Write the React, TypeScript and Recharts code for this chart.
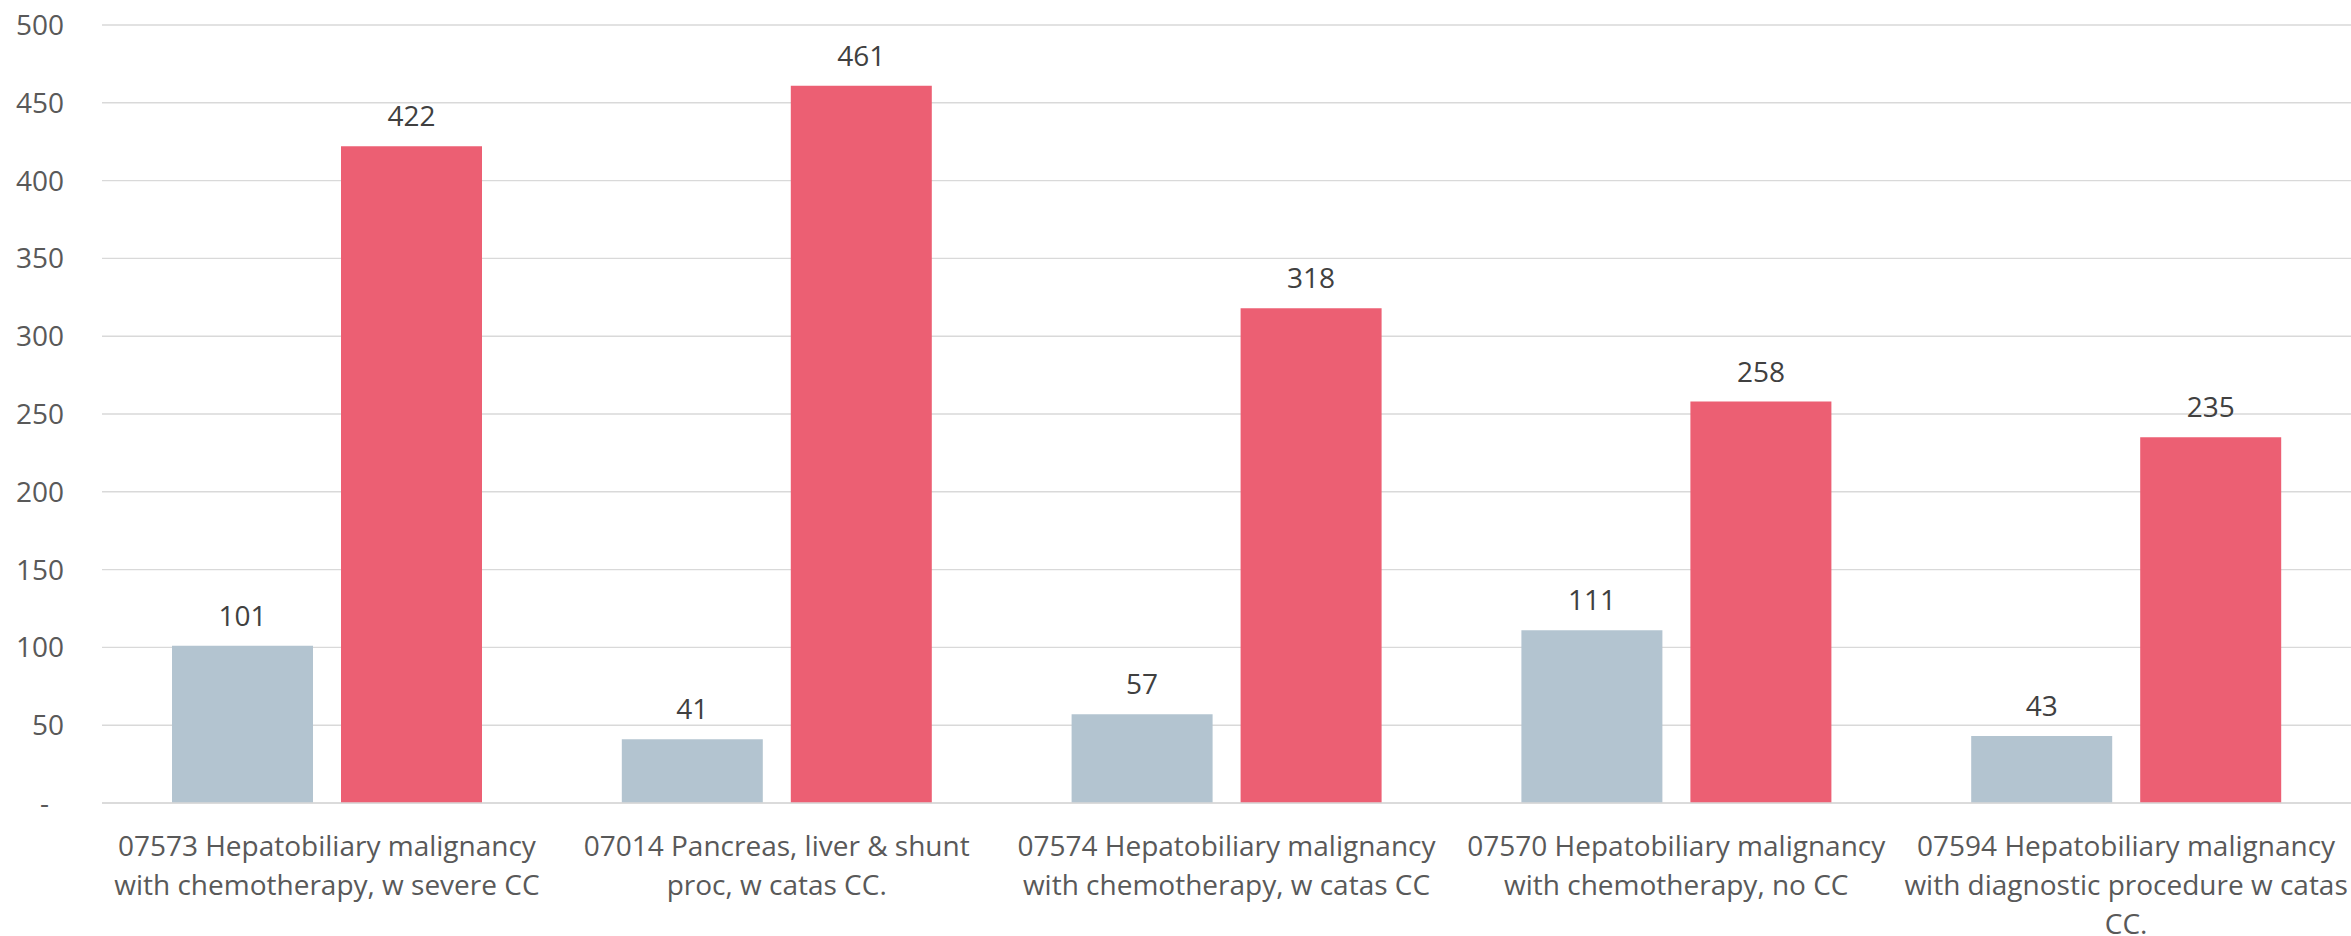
import { BarChart, Bar, XAxis, YAxis, CartesianGrid, LabelList } from "recharts"

// category names, line breaks are where the original wraps them
const categories = [
  "07573 Hepatobiliary malignancy\nwith chemotherapy, w severe CC",
  "07014 Pancreas, liver & shunt\nproc, w catas CC.",
  "07574 Hepatobiliary malignancy\nwith chemotherapy, w catas CC",
  "07570 Hepatobiliary malignancy\nwith chemotherapy, no CC",
  "07594 Hepatobiliary malignancy\nwith diagnostic procedure w catas\nCC.",
]
const greyValues = [101, 41, 57, 111, 43]
const redValues = [422, 461, 318, 258, 235]
const yTicks = [0, 50, 100, 150, 200, 250, 300, 350, 400, 450, 500]

const FONT = "'Open Sans', 'DejaVu Sans', sans-serif"

const data = categories.map((name, i) => ({ name, grey: greyValues[i], red: redValues[i] }))

//category labels, multi line and centred under each group
const XTick = ({ x, y, payload }: any) => {
  const lines = String(payload.value).split("\n")
  return (
    <text x={x} y={y} textAnchor="middle" fill="#595959" fontSize={28} fontFamily={FONT}>
      {lines.map((l, i) => (
        <tspan key={i} x={x} dy={i === 0 ? 53 : 39}>
          {l}
        </tspan>
      ))}
    </text>
  )
}

// zero shows as a dash like the accounting format does
const YTick = ({ x, y, payload }: any) => (
  <text
    x={payload.value === 0 ? x - 15 : x}
    y={y}
    dy="0.355em"
    textAnchor="end"
    fill="#595959"
    fontSize={28}
    fontFamily={FONT}
  >
    {payload.value === 0 ? "-" : payload.value}
  </text>
)

const valueLabel = (props: any) => {
  const { x, y, width, value } = props
  return (
    <text x={x + width / 2} y={y - 20} textAnchor="middle" fill="#404040" fontSize={28} fontFamily={FONT}>
      {value}
    </text>
  )
}

export default function App() {
  return (
    <div style={{ position: "absolute", left: 0, top: 0, width: 2351, height: 936, background: "#fff" }}>
      <BarChart
        width={2351}
        height={936}
        data={data}
        margin={{ top: 25, right: 0, left: 0, bottom: 0 }}
        barCategoryGap={70}
        barGap={28}
      >
        <CartesianGrid vertical={false} stroke="#d9d9d9" strokeWidth={1.4} />
        <XAxis
          dataKey="name"
          interval={0}
          height={133}
          tickSize={0}
          tickMargin={0}
          tickLine={false}
          axisLine={{ stroke: "#d9d9d9", strokeWidth: 1.4 }}
          tick={<XTick />}
        />
        <YAxis
          domain={[0, 500]}
          ticks={yTicks}
          width={102}
          tickSize={0}
          tickMargin={38}
          axisLine={false}
          tickLine={false}
          tick={<YTick />}
        />
        <Bar dataKey="grey" fill="#b3c4d0" isAnimationActive={false}>
          <LabelList dataKey="grey" content={valueLabel} />
        </Bar>
        <Bar dataKey="red" fill="#ec5f73" isAnimationActive={false}>
          <LabelList dataKey="red" content={valueLabel} />
        </Bar>
      </BarChart>
    </div>
  )
}
